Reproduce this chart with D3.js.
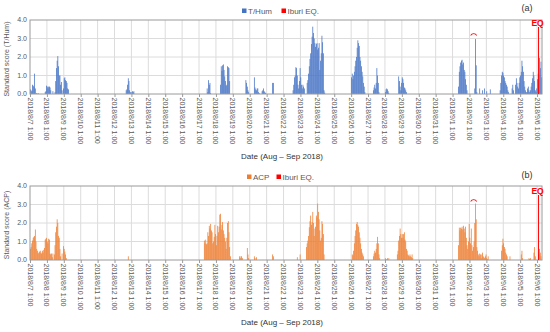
<!DOCTYPE html>
<html>
<head>
<meta charset="utf-8">
<script src="https://cdn.jsdelivr.net/npm/d3@7"></script>
<style>
  body { margin: 0; background: #fff; }
  text { font-family: "Liberation Sans", Arial, sans-serif; }
</style>
</head>
<body>
<div id="chart"></div>
<script>
// hourly standard scores, kept as bursts: [first hour, values per hour]; hours not listed are 0
var thumBursts = [
  ["2018-08-07 01", [0.25, 0.2, 0.15, 0.5, 0.45, 0.4, 1.1, 0.3, 0, 0.05, 0, 0.05]],
  ["2018-08-07 22", [0.1, 0.15, 0.45, 0.4, 0.3, 0.4, 0.4, 0.35, 0.2]],
  ["2018-08-08 09", [0.15, 0, 0, 0.1, 0.7, 1.4, 1.8, 2.05, 1.5, 1.0, 1.0, 0.5, 0.65, 0.2]],
  ["2018-08-09 00", [0.3, 0.85, 0.9, 0.75, 0.7, 0.6, 0.3, 0.25]],
  ["2018-08-12 17", [0.2, 0.25, 0.5, 0.85, 0.7, 0.2, 0.1, 0, 0.1, 0.15, 0.1, 0.15]],
  ["2018-08-17 12", [0.3, 0.1, 0.75, 0.5, 0.6, 0.05]],
  ["2018-08-18 07", [0.5, 1.5, 1.25, 1.55, 1.6, 1.3, 0.95, 0.7, 0.45, 0.5, 1.5, 1.45, 1.4, 0.7]],
  ["2018-08-19 19", [0.75, 0.6, 0.4, 0.2, 0.1]],
  ["2018-08-20 07", [0.9, 0.35, 0.25, 0.2, 0.3, 0.3, 0.1, 0.05]],
  ["2018-08-20 18", [0.15, 0.2, 0.3, 0.15, 0.1, 0.05]],
  ["2018-08-21 09", [0.6, 0.6]],
  ["2018-08-22 14", [0.2, 0.5, 0.9, 1.0, 1.45, 1.4, 1.0, 0.5, 0.3, 0.7, 1.4, 0.9, 0.5, 0.3, 0.5, 0.4, 0.3]],
  ["2018-08-23 10", [0.6, 0.75, 1.1, 1.5, 1.9, 2.2, 2.7, 3.1, 3.64, 3.3, 3.0, 2.75, 2.55, 2.7, 2.75, 2.4, 2.5, 2.75, 1.3, 1.8, 2.2, 3.15, 2.8, 2.2, 0.2, 0.07]],
  ["2018-08-26 01", [0.9, 1.1, 0.8, 1.0, 1.2, 1.5, 1.8, 2.0, 2.5, 2.9, 2.75, 2.6, 2.0, 1.8, 1.5, 1.2, 0.95, 0.6, 0.4, 0.1]],
  ["2018-08-27 08", [0.2, 0.35, 0.5, 0.3, 0.6, 1.4, 1.0, 0.6, 0.1]],
  ["2018-08-28 01", [0.1, 0.25, 0.3, 0.25, 0.15, 0.05]],
  ["2018-08-28 20", [0.95, 0.7, 0.4, 0.2, 0.6, 0.9, 0.8, 0.6, 0.35, 0.3, 0.2, 0.1]],
  ["2018-09-01 09", [0.4, 1.2, 1.5, 1.7, 1.8, 1.85, 1.6, 1.7, 1.3, 1.2, 0.8, 0.5, 0.2]],
  ["2018-09-02 08", [0.3, 2.97, 1.55, 0.1]],
  ["2018-09-02 15", [0.3, 0, 0, 0, 0.2, 0, 0, 0.3, 0, 0, 0.15, 0, 0, 0, 0, 0.25]],
  ["2018-09-03 20", [0.2, 0.6, 1.0, 1.2, 1.15, 1.0, 0.9, 0.7, 0.6, 0.5, 0.4, 0.2, 0.1]],
  ["2018-09-04 13", [0.3, 0.5, 0.2]],
  ["2018-09-04 18", [0.5, 0.85, 0.6, 0.4, 0.3, 0.6, 0.9, 1.0, 1.2, 1.8, 1.5, 1.2, 0.7, 0.4, 0.2, 0.1]],
  ["2018-09-05 10", [0.1, 0.3, 0.4, 0.2, 0.1, 0.2, 0.4, 0.6, 0.85, 1.2, 1.0, 0.7, 0.2, 0.1, 0.3, 0.8, 1.1]],
  ["2018-09-06 03", [1.0, 1.95, 1.4, 1.75, 0.9]]
];

var acpBursts = [
  ["2018-08-07 01", [0.6, 0.7, 0.9, 1.05, 1.2, 1.25, 1.3, 1.65, 1.0, 0.6, 0.5, 0.35, 0.4, 0.45, 0.5, 0.4, 0.35, 0.5, 0.4, 0.55, 0.65, 1.1, 1.15, 1.2, 1.0, 0.9, 1.15, 1.1, 0.35]],
  ["2018-08-08 06", [0.3, 0.35, 0.15, 0.35]],
  ["2018-08-08 11", [0.3, 0.8, 1.5, 1.8, 2.2, 2.0, 1.3, 1.2, 0.6, 0.2]],
  ["2018-08-08 22", [0.35]],
  ["2018-08-09 00", [0.75, 0.6, 0.45, 0.3, 0.1]],
  ["2018-08-12 20", [0.2]],
  ["2018-08-17 08", [1.05, 0.9, 1.1, 0.85, 0.9, 1.5, 1.3, 1.85, 1.7, 1.95, 1.6, 1.5, 0.9, 1.0, 1.25, 1.9, 1.4, 0.8, 1.3, 1.85, 1.5, 1.8, 2.45, 2.5, 1.65, 1.9, 2.05, 1.6, 1.4, 1.2, 1.0, 0.6, 1.2, 2.0, 2.1, 1.5, 0.7, 0.2]],
  ["2018-08-19 10", [0.2, 0.1, 0.2, 0.2, 0.1]],
  ["2018-08-19 21", [0.65, 0.3, 0.1]],
  ["2018-08-20 07", [0.2, 0.1, 0, 0.15]],
  ["2018-08-21 09", [0.3, 0.2]],
  ["2018-08-22 20", [0.15, 0, 0, 0, 0.3]],
  ["2018-08-23 09", [0.7, 0.9, 1.05, 1.3, 1.77, 2.1, 2.4, 1.9, 2.05, 2.6, 2.0, 1.3, 1.7, 1.8, 2.4, 2.3, 3.05, 2.6, 2.2, 1.6, 1.05, 1.2, 2.1, 1.95, 1.4, 0.3]],
  ["2018-08-26 02", [0.3, 0.25, 0.5, 0.9, 1.3, 1.6, 1.95, 2.05, 1.9, 1.8, 1.5, 1.2, 0.9, 0.6, 0.4, 0.3, 0.2]],
  ["2018-08-27 08", [0.2, 0.35, 0.5, 0.4, 0.6, 0.9, 1.25, 0.9, 0.3, 0.1]],
  ["2018-08-28 01", [0.1, 0, 0.05, 0.1, 0, 0.1]],
  ["2018-08-28 18", [0.3, 0.5, 1.05, 1.3, 1.7, 1.4, 1.2, 1.4, 1.2, 1.4, 1.5, 1.1, 1.0, 0.6, 0.5, 0.3, 0.25, 0.2, 0.3, 0.2, 0.15, 0.3, 0.1]],
  ["2018-09-01 09", [0.8, 1.75, 1.6, 1.75, 1.7, 1.8, 1.65, 1.85, 1.7, 1.5, 1.8, 1.2, 0.8, 0.6, 1.0, 1.95, 1.2, 0.9, 1.7, 0.8, 0.5, 0.7, 1.0, 2.0, 3.05, 2.2, 0.7, 0.5, 0.3, 0.2, 0.35, 0.3, 0.1, 0.3, 0.4, 0.2, 0.15, 0.1, 0.2, 0.3, 0.1, 0.05, 0.2]],
  ["2018-09-03 22", [0.5, 0.8, 1.15, 0.9, 0.7, 0.6, 0.4, 0.3, 0.2]],
  ["2018-09-04 10", [0.2]],
  ["2018-09-05 02", [0.3, 0.5, 0.1]],
  ["2018-09-05 13", [0.1, 0.05, 0.1]],
  ["2018-09-05 20", [0.4, 0.7, 0.2]],
  ["2018-09-06 03", [0.3, 0.6, 0.4, 0.2]]
];

var yTicks = [0, 1, 2, 3, 4];
var startTime = "2018-08-07 01",
    endTime = "2018-09-06 08",
    lastTick = "2018-09-06 01",
    quakeTime = "2018-09-06 03:07",
    peakTime = "2018-09-02 07";   // the small arc over the 9/2 spike

var parseHour = d3.timeParse("%Y-%m-%d %H"),
    parseMin = d3.timeParse("%Y-%m-%d %H:%M"),
    fmtTick = d3.timeFormat("%Y/%-m/%-d %-H:%M");

var width = 550, height = 332;
var svg = d3.select("#chart").append("svg")
    .attr("width", width)
    .attr("height", height);

var x = d3.scaleTime()
    .domain([parseHour(startTime), parseHour(endTime)])
    .range([30, 542]);

// one label per day at 1:00
var tickDates = d3.timeHour.range(parseHour(startTime), d3.timeHour.offset(parseHour(lastTick), 1), 24);

function expand(bursts) {
  var out = [];
  bursts.forEach(function(b) {
    var t0 = parseHour(b[0]);
    b[1].forEach(function(v, i) {
      if (v > 0) out.push({ t: d3.timeHour.offset(t0, i), v: v });
    });
  });
  return out;
}

makePanel({
  top: 20, bottom: 94, data: expand(thumBursts), color: "#4472C4",
  name: "T/Hum", tag: "(a)", legendY: 13.5, tagY: 11, titleY: 159,
  ytitle: "Standard score (T/Hum)", eqTop: 27
});

makePanel({
  top: 186, bottom: 260, data: expand(acpBursts), color: "#ED7D31",
  name: "ACP", tag: "(b)", legendY: 179.5, tagY: 178, titleY: 325,
  ytitle: "Standard score (ACP)", eqTop: 195
});

function makePanel(p) {
  var g = svg.append("g");
  var y = d3.scaleLinear().domain([0, 4]).range([p.bottom, p.top]);
  var x0 = x.range()[0], x1 = x.range()[1];

  // grid
  g.append("g").selectAll("line.h")
    .data(yTicks.slice(1, 4))
    .enter().append("line")
      .attr("x1", x0).attr("x2", x1)
      .attr("y1", function(d) { return y(d); })
      .attr("y2", function(d) { return y(d); })
      .attr("stroke", "#dcdcdc");

  g.append("g").selectAll("line.v")
    .data(tickDates.slice(1))
    .enter().append("line")
      .attr("x1", function(d) { return x(d); })
      .attr("x2", function(d) { return x(d); })
      .attr("y1", p.top).attr("y2", p.bottom)
      .attr("stroke", "#dcdcdc");

  // bars, one per hour
  var hourW = x(d3.timeHour.offset(x.domain()[0], 1)) - x0;
  g.append("g").selectAll("rect")
    .data(p.data)
    .enter().append("rect")
      .attr("x", function(d) { return x(d.t); })
      .attr("width", hourW + 0.05)
      .attr("y", function(d) { return y(d.v); })
      .attr("height", function(d) { return p.bottom - y(d.v); })
      .attr("fill", p.color);

  // frame
  g.append("rect")
    .attr("x", x0).attr("y", p.top)
    .attr("width", x1 - x0).attr("height", p.bottom - p.top)
    .attr("fill", "none")
    .attr("stroke", "#9a9a9a");

  // x axis ticks + rotated labels
  var xa = g.append("g").attr("transform", "translate(0," + p.bottom + ")")
    .call(d3.axisBottom(x).tickValues(tickDates).tickSize(3).tickFormat(""));
  xa.select(".domain").remove();
  xa.selectAll("line").attr("stroke", "#9a9a9a");

  g.append("g").selectAll("text")
    .data(tickDates)
    .enter().append("text")
      .attr("transform", function(d) { return "translate(" + x(d) + "," + (p.bottom + 3.5) + ") rotate(90)"; })
      .attr("dy", "0.35em")
      .style("font-size", "7px")
      .attr("fill", "#595959")
      .text(fmtTick);

  // y labels
  g.append("g").selectAll("text")
    .data(yTicks)
    .enter().append("text")
      .attr("x", 27)
      .attr("y", function(d) { return y(d); })
      .attr("dy", "0.35em")
      .attr("text-anchor", "end")
      .style("font-size", "7px")
      .attr("fill", "#595959")
      .text(function(d) { return d.toFixed(1); });

  g.append("text")
    .attr("transform", "translate(9," + ((p.top + p.bottom) / 2 + 2) + ") rotate(-90)")
    .attr("text-anchor", "middle")
    .style("font-size", "7px")
    .attr("fill", "#595959")
    .text(p.ytitle);

  g.append("text")
    .attr("x", 282).attr("y", p.titleY)
    .attr("text-anchor", "middle")
    .style("font-size", "8px")
    .attr("fill", "#333")
    .text("Date (Aug \u2013 Sep 2018)");

  // earthquake marker
  var xq = x(parseMin(quakeTime));
  g.append("line")
    .attr("x1", xq).attr("x2", xq)
    .attr("y1", p.eqTop).attr("y2", p.bottom)
    .attr("stroke", "#ff0000").attr("stroke-width", 1);
  g.append("text")
    .attr("x", xq - 1).attr("y", p.eqTop - 1)
    .attr("text-anchor", "middle")
    .style("font-size", "8.5px").style("font-weight", "bold")
    .attr("fill", "#ff0000")
    .text("EQ");

  // arc over the 9/2 spike
  var arc = d3.arc().innerRadius(3).outerRadius(3.8).startAngle(-1.1).endAngle(1.1);
  g.append("path")
    .attr("transform", "translate(" + x(parseHour(peakTime)) + "," + y(3.08) + ")")
    .attr("d", arc())
    .attr("fill", "#ff0000");

  // legend
  var lx = p.name == "T/Hum" ? 242 : 247;
  g.append("rect").attr("x", lx).attr("y", p.legendY - 5).attr("width", 4.5).attr("height", 4.5).attr("fill", p.color);
  g.append("text").attr("x", lx + 6).attr("y", p.legendY)
    .style("font-size", "8px").attr("fill", "#595959").text(p.name);
  var ex = p.name == "T/Hum" ? 281.5 : 276.5;
  g.append("rect").attr("x", ex).attr("y", p.legendY - 5).attr("width", 4.5).attr("height", 4.5).attr("fill", "#ff0000");
  g.append("text").attr("x", ex + 6).attr("y", p.legendY)
    .style("font-size", "8px").attr("fill", "#595959").text("Iburi EQ.");

  g.append("text")
    .attr("x", 527).attr("y", p.tagY)
    .attr("text-anchor", "middle")
    .style("font-size", "9px")
    .attr("fill", "#333")
    .text(p.tag);
}
</script>
</body>
</html>
